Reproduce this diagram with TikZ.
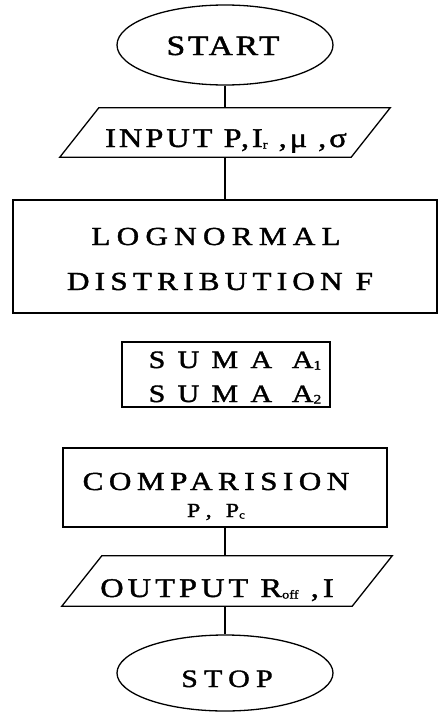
\documentclass[tikz,border=0pt]{standalone}
\usepackage{fontspec}
\setmainfont{Liberation Serif}[FakeBold=1.5, FakeStretch=1.2]
\newcommand{\lsp}[2]{\addfontfeature{LetterSpace=#1}#2}
% small index set just under the baseline
\newcommand{\ix}[2][12]{\raisebox{-1.5pt}{\fontsize{#1}{#1}\selectfont\addfontfeature{LetterSpace=0}#2}}
\tikzset{
  outline/.style={draw, line width=1.3pt, inner sep=0pt},
  term/.style={outline, ellipse, minimum width=216pt},
  proc/.style={outline, rectangle},
  iobox/.style={rectangle, inner sep=0pt, minimum width=330pt},
  lbl/.style={anchor=base, inner sep=0pt},
  link/.style={line width=1.3pt}
}
\usetikzlibrary{shapes.geometric}
\begin{document}
\begin{tikzpicture}[x=1pt,y=-1pt]
\useasboundingbox (0,0) rectangle (443,712);
% terminals and process boxes
\node[term, minimum height=80pt] (start) at (225,45) {};
\node[iobox, minimum height=49pt] (input) at (225,132.5) {};
\node[proc, minimum width=424pt, minimum height=113pt] (logn) at (225,256.5) {};
\node[proc, minimum width=208pt, minimum height=65pt] (suma) at (226,374.5) {};
\node[proc, minimum width=324pt, minimum height=79pt] (comp) at (225,487.5) {};
\node[iobox, minimum height=50pt] (output) at (227,581) {};
\node[term, minimum height=76pt] (stop) at (225,673) {};
% parallelograms for input and output
\draw[line width=1.3pt, line join=miter]
  (input.south west) -- ([xshift=39pt]input.north west) -- (input.north east)
  -- ([xshift=-39pt]input.south east) -- cycle;
\draw[line width=1.3pt, line join=miter]
  (output.south west) -- ([xshift=40pt]output.north west) -- (output.north east)
  -- ([xshift=-40pt]output.south east) -- cycle;
% texts
\node[lbl] (tstart) at (223,55) {\fontsize{28}{30}\selectfont\lsp{10}{START}};
\node[lbl] (tinput) at (226,147) {\fontsize{27}{30}\selectfont\lsp{11}{INPUT P,I\ix{r} ,μ ,σ}};
\node[lbl] (tlogn1) at (216,245) {\fontsize{26}{30}\selectfont\lsp{24}{LOGNORMAL}};
\node[lbl] (tlogn2) at (220,290) {\fontsize{26}{30}\selectfont\lsp{20}{DISTRIBUTION F}};
\node[lbl] (tsuma1) at (235,368) {\fontsize{25}{26}\selectfont\lsp{49}{SUMA A\ix[13]{1}}};
\node[lbl] (tsuma2) at (235,402) {\fontsize{25}{26}\selectfont\lsp{49}{SUMA A\ix[13]{2}}};
\node[lbl] (tcomp1) at (216,490) {\fontsize{26}{30}\selectfont\lsp{21}{COMPARISION}};
\node[lbl] (tcomp2) at (216,517) {\fontsize{20}{22}\selectfont\lsp{40}{P, P\ix[11]{c}}};
\node[lbl] (toutput) at (217,597) {\fontsize{27}{30}\selectfont\lsp{15}{OUTPUT R\ix{off} ,I}};
\node[lbl] (tstop) at (227,687) {\fontsize{25}{28}\selectfont\lsp{25}{STOP}};
% connectors
\draw[link] (start.south) -- (start.south |- input.north);
\draw[link] (start.south |- input.south) -- (logn.north);
\draw[link] (logn.south) -- (logn.south -| suma.north);
\draw[link] (suma.south) -- (suma.south -| comp.north);
\draw[link] (comp.south) -- (comp.south |- output.north);
\draw[link] (comp.south |- output.south) -- (stop.north);
\end{tikzpicture}
\end{document}
